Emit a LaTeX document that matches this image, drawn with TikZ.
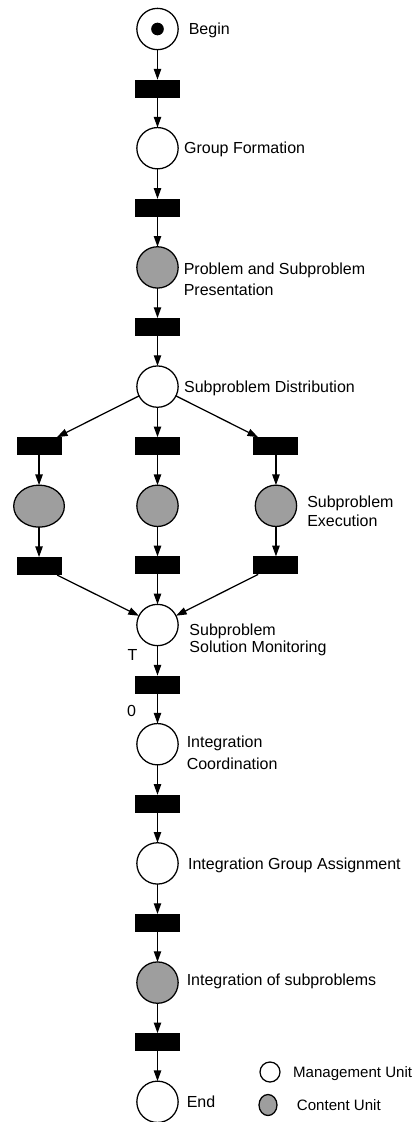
\documentclass[tikz,border=0pt]{standalone}
\usepackage{fontspec}
\setmainfont{Liberation Sans}
\usetikzlibrary{arrows.meta,chains,positioning,shapes.geometric}
\definecolor{ContentGray}{gray}{0.62}
\begin{document}
\begin{tikzpicture}[
        x=0.75pt, y=-0.75pt, line width=0.95pt, font=\fontsize{12}{14}\selectfont,
        start chain = going below, node distance = 22.45pt,
        Unit/.style={draw, circle, minimum size=31pt, inner sep=0pt, outer sep=0pt},
        Content/.style={Unit, fill=ContentGray},
        Bar/.style={fill, minimum width=33.75pt, minimum height=13.5pt, inner sep=0pt, outer sep=0pt},
        Label/.style={inner sep=0pt, text height=8.6pt, text depth=0pt},
        Label2/.style={inner sep=0pt, align=left, anchor=north west},
        ]
    \useasboundingbox (0,0) rectangle (416,1122);
    \node [Unit, on chain] (begin) at (157.5,29) {};
    \node [Bar, on chain] (t1) {};
    \node [Unit, on chain] (group) {};
    \node [Bar, on chain] (t2) {};
    \node [Content, on chain] (present) {};
    \node [Bar, on chain] (t3) {};
    \node [Unit, on chain] (distrib) {};
    \node [Bar, on chain] (t4) {};
    \node [Content, on chain] (exec) {};
    \node [Bar, on chain] (t5) {};
    \node [Unit, on chain] (monitor) {};
    \node [Bar, on chain] (t6) {};
    \node [Unit, on chain] (coord) {};
    \node [Bar, on chain] (t7) {};
    \node [Unit, on chain] (assign) {};
    \node [Bar, on chain] (t8) {};
    \node [Content, on chain] (integr) {};
    \node [Bar, on chain] (t9) {};
    \node [Unit, on chain] (finish) {};
    \node [fill, circle, minimum size=9.5pt, inner sep=0pt] (token) at (begin) {};
    % side branches
    \node [Bar, left=55.1pt of t4] (t4l) {};
    \node [Bar, right=55.1pt of t4] (t4r) {};
    \node [Content, ellipse, minimum width=38pt, minimum height=31.5pt, below=of t4l] (execl) {};
    \node [Content, below=of t4r] (execr) {};
    \node [Bar, below=of execl] (t5l) {};
    \node [Bar, below=of execr] (t5r) {};
    % labels
    \node [Label, right=7.5pt of begin] (beginlbl) {Begin};
    \node [Label, right=4pt of group] (grouplbl) {Group Formation};
    \node [Label2] (presentlbl) at ([xshift=3.75pt, yshift=3.5pt]present.east) {Problem and Subproblem\\[1.5pt]Presentation};
    \node [Label, right=4pt of distrib] (distriblbl) {Subproblem Distribution};
    \node [Label2] (execlbl) at ([xshift=7.5pt, yshift=8pt]execr.east) {Subproblem\\Execution};
    \node [Label2] (monitorlbl) at ([xshift=8pt, yshift=1.3pt]monitor.east) {Subproblem\\[-1.5pt]Solution Monitoring};
    \node [Label2] (coordlbl) at ([xshift=6pt, yshift=6.5pt]coord.east) {Integration\\[2.5pt]Coordination};
    \node [Label, right=7pt of assign] (assignlbl) {Integration Group Assignment};
    \node [Label, right=6pt of integr, yshift=2pt] (integrlbl) {Integration of subproblems};
    \node [Label, right=6pt of finish] (finishlbl) {End};
    \node [Label] (tlbl) at ([xshift=-18.75pt, yshift=-7pt]monitor.south) {T};
    \node [Label] (zerolbl) at ([xshift=-19.5pt, yshift=-12.75pt]t6.south) {0};
    % legend
    \node [Unit, minimum size=15pt] (legunit) at (270,1072) {};
    \node [Content, ellipse, minimum width=13.5pt, minimum height=15.75pt] (legcontent) at (268,1105) {};
    \node [Label, right=9.4pt of legunit, font=\fontsize{11.3}{14}\selectfont] (legunitlbl) {Management Unit};
    \node [Label, right=14.5pt of legcontent, font=\fontsize{11.3}{14}\selectfont] (legcontentlbl) {Content Unit};
    \begin{scope}[-{Triangle[length=8pt, width=5.5pt]}]
        \draw (begin) -- (t1);
        \draw (t1) -- (group);
        \draw (group) -- (t2);
        \draw (t2) -- (present);
        \draw (present) -- (t3);
        \draw (t3) -- (distrib);
        \draw (distrib) -- (t4l);
        \draw (distrib) -- (t4);
        \draw (distrib) -- (t4r);
        \draw (t4l) -- (execl);
        \draw (t4) -- (exec);
        \draw (t4r) -- (execr);
        \draw (execl) -- (t5l);
        \draw (exec) -- (t5);
        \draw (execr) -- (t5r);
        \draw (t5l) -- (monitor);
        \draw (t5) -- (monitor);
        \draw (t5r) -- (monitor);
        \draw (monitor) -- (t6);
        \draw (t6) -- (coord);
        \draw (coord) -- (t7);
        \draw (t7) -- (assign);
        \draw (assign) -- (t8);
        \draw (t8) -- (integr);
        \draw (integr) -- (t9);
        \draw (t9) -- (finish);
    \end{scope}
\end{tikzpicture}
\end{document}
